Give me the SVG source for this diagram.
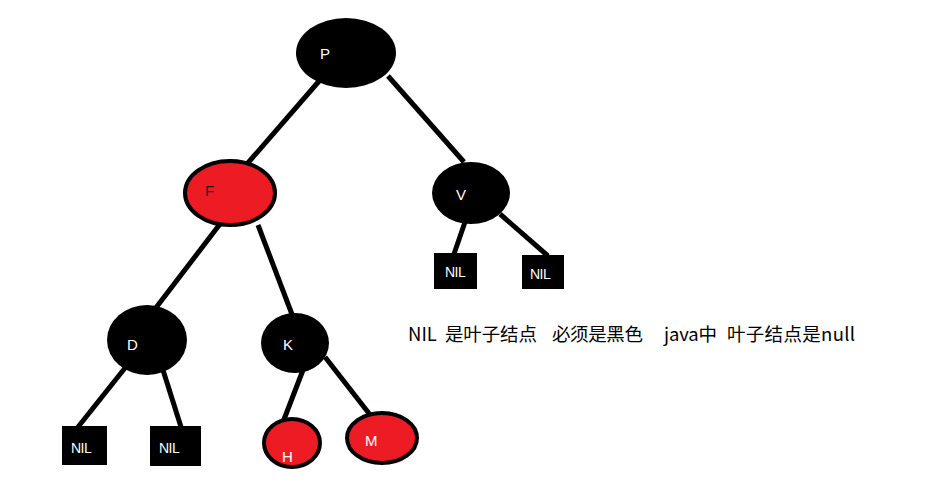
<svg xmlns="http://www.w3.org/2000/svg" width="938" height="491" viewBox="0 0 938 491">
<style>
.blk{fill:#000}
.red{fill:#ED1C24;stroke:#000;stroke-width:4}
.lt{font-family:"Liberation Sans",Arial,sans-serif;font-size:15px;fill:#fff}
.dt{font-family:"Liberation Sans",Arial,sans-serif;font-size:15px;fill:#1a1a1a}
.nt{font-family:"Liberation Sans",Arial,sans-serif;font-size:14px;fill:#fff;letter-spacing:-0.5px}
.cn{font-family:"Noto Sans CJK SC","Noto Sans",sans-serif;font-size:18.5px;fill:#000}
#edges line{stroke:#000;stroke-width:5;stroke-linecap:butt}
</style>
<rect width="938" height="491" fill="#fff"/>
<g id="edges">
<line x1="320" y1="80" x2="247" y2="164"/>
<line x1="388" y1="76" x2="464" y2="162"/>
<line x1="220" y1="224" x2="155" y2="309"/>
<line x1="258" y1="225" x2="293" y2="317"/>
<line x1="465" y1="222" x2="454" y2="254"/>
<line x1="500" y1="214" x2="548" y2="256"/>
<line x1="125" y1="368" x2="78" y2="427"/>
<line x1="163" y1="370" x2="181" y2="427"/>
<line x1="303" y1="370" x2="283" y2="422"/>
<line x1="325" y1="357" x2="371" y2="416"/>
</g>
<g id="P"><ellipse class="blk" cx="346" cy="53" rx="50" ry="35"/><text class="lt" x="320" y="59">P</text></g>
<g id="F"><ellipse class="red" cx="230" cy="193" rx="45" ry="32"/><text class="dt" x="205" y="196">F</text></g>
<g id="V"><ellipse class="blk" cx="471" cy="193" rx="39" ry="31"/><text class="lt" x="456" y="200">V</text></g>
<g id="NIL1"><rect class="blk" x="434" y="253" width="43" height="36"/><text class="nt" x="445" y="277">NIL</text></g>
<g id="NIL2"><rect class="blk" x="522" y="255" width="42" height="34"/><text class="nt" x="530" y="279">NIL</text></g>
<g id="D"><ellipse class="blk" cx="147" cy="340" rx="40" ry="35"/><text class="lt" x="127" y="350">D</text></g>
<g id="K"><ellipse class="blk" cx="295" cy="343" rx="34" ry="30"/><text class="lt" x="283" y="350">K</text></g>
<g id="NIL3"><rect class="blk" x="62" y="426" width="45" height="39"/><text class="nt" x="71" y="453">NIL</text></g>
<g id="NIL4"><rect class="blk" x="150" y="426" width="51" height="40"/><text class="nt" x="159" y="453">NIL</text></g>
<g id="H"><ellipse class="red" cx="292" cy="443" rx="28" ry="24"/><text class="lt" x="282" y="462">H</text></g>
<g id="M"><ellipse class="red" cx="382" cy="438" rx="35" ry="25"/><text class="lt" x="365" y="446">M</text></g>
<g id="note" class="cn">
<text x="408" y="341">NIL</text>
<text x="445" y="341" textLength="92">是叶子结点</text>
<text x="552" y="341" textLength="91">必须是黑色</text>
<text x="664" y="341" textLength="53">java中</text>
<text x="727" y="341" textLength="128">叶子结点是null</text>
</g>
</svg>
